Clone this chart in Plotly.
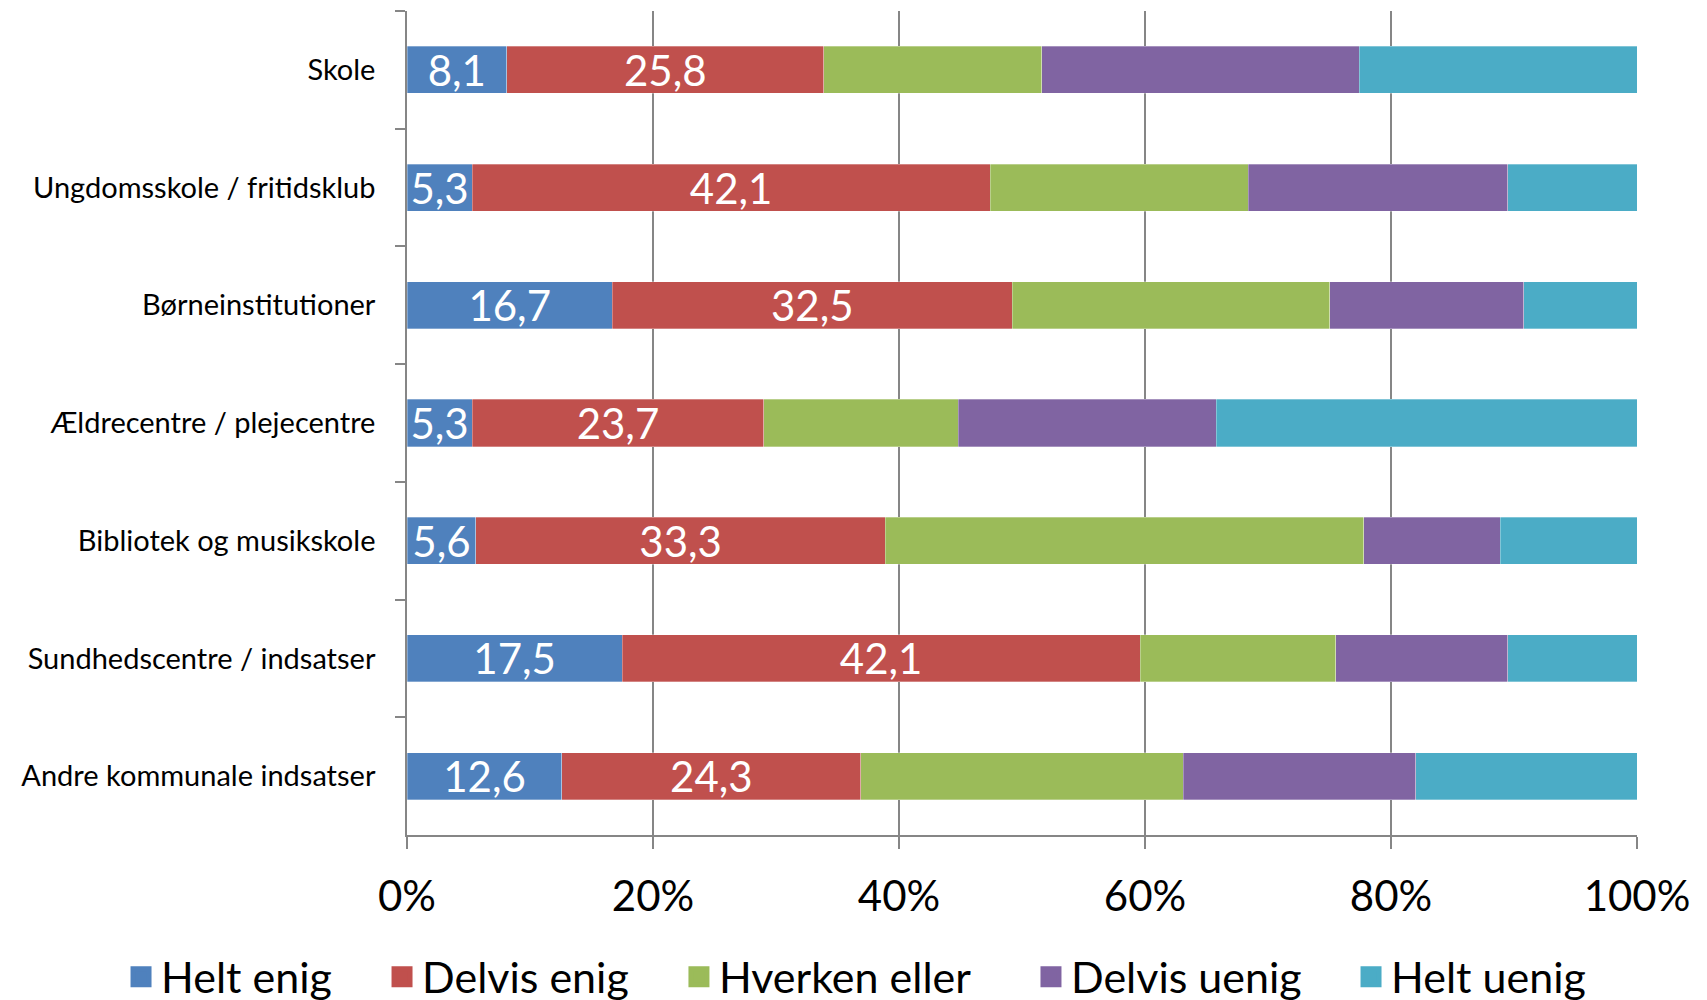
import plotly.graph_objects as go

categories = [
    "Skole",
    "Ungdomsskole / fritidsklub",
    "Børneinstitutioner",
    "Ældrecentre / plejecentre",
    "Bibliotek og musikskole",
    "Sundhedscentre / indsatser",
    "Andre kommunale indsatser",
]
series_names = ["Helt enig", "Delvis enig", "Hverken eller", "Delvis uenig", "Helt uenig"]
helt_enig = [8.1, 5.3, 16.7, 5.3, 5.6, 17.5, 12.6]
delvis_enig = [25.8, 42.1, 32.5, 23.7, 33.3, 42.1, 24.3]
hverken_eller = [17.7, 21.0, 25.8, 15.8, 38.9, 15.9, 26.2]
delvis_uenig = [25.8, 21.1, 15.8, 21.0, 11.1, 14.0, 18.9]
helt_uenig = [22.6, 10.5, 9.2, 34.2, 11.1, 10.5, 18.0]
x_tick_values = [0, 20, 40, 60, 80, 100]
x_tick_labels = ["0%", "20%", "40%", "60%", "80%", "100%"]

colors = ["#4F81BD", "#C0504D", "#9BBB59", "#8064A2", "#4BACC6"]
series_values = [helt_enig, delvis_enig, hverken_eller, delvis_uenig, helt_uenig]
labelled = [True, True, False, False, False]
legend_x = [-0.2325, -0.0203, 0.2211, 0.5073, 0.7675]

FONT = "Lato, Carlito, Calibri, sans-serif"

fig = go.Figure()
for name, vals, col, lab in zip(series_names, series_values, colors, labelled):
    fig.add_trace(go.Bar(
        y=categories, x=vals, name=name, orientation="h",
        marker=dict(color=col, line=dict(color="rgba(255,255,255,0.6)", width=0.5)),
        text=[f"{v:.1f}".replace(".", ",") for v in vals] if lab else None,
        textposition="inside" if lab else "none",
        insidetextanchor="middle",
        textfont=dict(color="white", size=42, family=FONT),
        showlegend=False, hoverinfo="x+y+name",
    ))

# legend entries (one legend per entry, to reproduce the natural spacing)
legend_layout = {}
for i, (name, col, lx) in enumerate(zip(series_names, colors, legend_x)):
    key = "legend" if i == 0 else f"legend{i + 1}"
    fig.add_trace(go.Scatter(
        x=[None], y=[None], mode="markers", name=name, legend=key,
        marker=dict(symbol="square", size=16, color=col, line=dict(color=col, width=5)),
        showlegend=True,
    ))
    legend_layout[key] = dict(
        orientation="h", x=lx, xanchor="left", y=-0.172, yanchor="middle",
        font=dict(size=43, family=FONT, color="black"),
        itemsizing="trace", bgcolor="rgba(0,0,0,0)",
    )

fig.update_layout(
    width=1707, height=1000,
    barmode="stack", bargap=0.6,
    plot_bgcolor="white", paper_bgcolor="white",
    margin=dict(l=399, r=78, t=3, b=173, autoexpand=False),
    font=dict(family=FONT, color="black"),
    uniformtext=dict(minsize=42, mode="show"),
    **legend_layout,
)
fig.update_xaxes(
    range=[0, 100], tickvals=x_tick_values, ticktext=x_tick_labels,
    showgrid=True, gridcolor="#868686", gridwidth=1.5,
    showline=True, linecolor="#868686", linewidth=1.5,
    ticks="outside", ticklen=12, tickcolor="#868686", tickwidth=1.5,
    tickfont=dict(size=42, family=FONT, color="black"),
    ticklabelstandoff=12, zeroline=False, automargin=False,
)
fig.update_yaxes(
    categoryorder="array", categoryarray=categories, autorange="reversed",
    showline=True, linecolor="#868686", linewidth=1.5,
    ticks="outside", tickson="boundaries", ticklen=10, tickcolor="#868686", tickwidth=1.5,
    tickfont=dict(size=29, family=FONT, color="black"),
    ticklabelstandoff=24, showgrid=False, automargin=False,
)

fig.write_html("out.html")
